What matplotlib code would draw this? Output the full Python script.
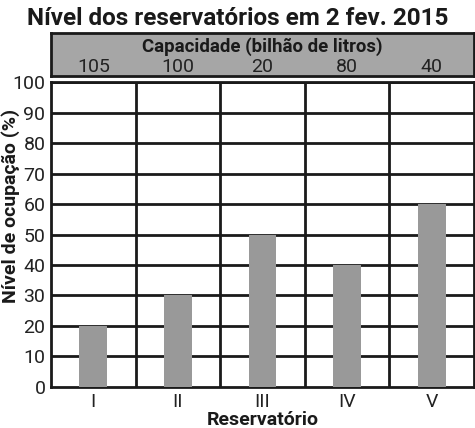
import matplotlib
matplotlib.use("Agg")
import matplotlib.pyplot as plt

title = "Nível dos reservatórios em 2 fev. 2015"
categories = ["I", "II", "III", "IV", "V"]
levels = [20, 30, 50, 40, 60]
capacities = ["105", "100", "20", "80", "40"]
yticks = [0, 10, 20, 30, 40, 50, 60, 70, 80, 90, 100]

plt.rcParams['font.family'] = ['Roboto', 'DejaVu Sans']
dark = "#1a1a1a"

fig = plt.figure(figsize=(4.75, 4.28), dpi=100)
ax = fig.add_axes([0.1074, 0.0958, 0.8906, 0.7126])
n = len(categories)
x = list(range(n))
ax.bar(x, levels, width=0.33, color="#999999", zorder=3)
ax.set_xlim(-0.5, n - 0.5)
ax.set_ylim(0, 100)
ax.set_yticks(yticks)
ax.set_xticks(x)
ax.set_xticklabels(categories, fontsize=14, color="#222222")
ax.set_yticklabels([str(v) for v in yticks], fontsize=14, color="#222222")
for v in yticks[1:]:
    ax.axhline(v, color=dark, lw=2, zorder=1)
for b in [i + 0.5 for i in range(n - 1)]:
    ax.axvline(b, color=dark, lw=2, zorder=1)
for s in ax.spines.values():
    s.set_linewidth(2)
    s.set_color(dark)
ax.tick_params(axis='both', length=0, pad=4)
ax.set_xlabel("Reservatório", fontsize=14, fontweight='bold', labelpad=0, color=dark)
fig.text(11 / 475, 0.52, "Nível de ocupação (%)", rotation=90, ha='center', va='center',
         fontsize=14, fontweight='bold', color=dark)

hx = fig.add_axes([0.1074, 0.8224, 0.8906, 0.1005])
hx.set_xlim(-0.5, n - 0.5)
hx.set_ylim(0, 1)
hx.set_facecolor("#a6a6a6")
hx.set_xticks([])
hx.set_yticks([])
for s in hx.spines.values():
    s.set_linewidth(2)
    s.set_color(dark)
hx.text((n - 1) / 2, 0.69, "Capacidade (bilhão de litros)", ha='center', va='center',
        fontsize=13.4, fontweight='bold', color=dark)
for i, c in enumerate(capacities):
    hx.text(i, 0.22, c, ha='center', va='center', fontsize=14, color="#222222")

fig.text(0.5, 0.957, title, ha='center', va='center', fontsize=17.5, fontweight='bold', color=dark)
fig.savefig("out.png", dpi=100)
